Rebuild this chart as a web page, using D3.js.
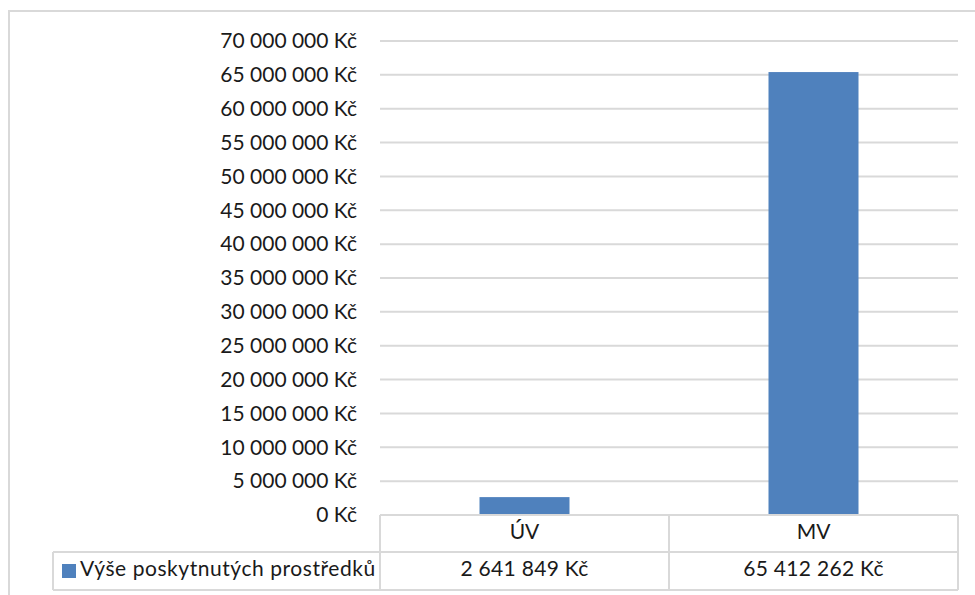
<!DOCTYPE html>
<html><head><meta charset="utf-8">
<script src="https://cdn.jsdelivr.net/npm/d3@7"></script>
<style>
html,body{margin:0;padding:0;background:#fff;}
svg{display:block;font-family:Lato, "Open Sans", sans-serif;}
</style></head>
<body><svg id="c" width="975" height="595"></svg>
<script>
const categories = ["ÚV", "MV"];
const values = [2641849, 65412262];
const seriesName = "Výše poskytnutých prostředků";
const yTicks = [0,5000000,10000000,15000000,20000000,25000000,30000000,35000000,40000000,45000000,50000000,55000000,60000000,65000000,70000000];

const fmt = v => d3.format(",")(v).replace(/,/g, " ") + " Kč";
const svg = d3.select("#c");
const W = 975, H = 595;
const pLeft = 380, pRight = 958, pTop = 41, pBottom = 515;
const row1 = 552, row2 = 590, legendLeft = 53;
const grid = "#d9d9d9", txt = "#1a1a1a", barColor = "#4f81bd";
const fs = 21;

// outer chart border
svg.append("rect").attr("x", 9).attr("y", 11).attr("width", W).attr("height", H)
  .attr("fill", "none").attr("stroke", grid).attr("stroke-width", 2);

const x = d3.scaleBand().domain(categories).range([pLeft, pRight]).padding(0);
const y = d3.scaleLinear().domain([0, 70000000]).range([pBottom, pTop]);

// gridlines
svg.append("g").selectAll("line").data(yTicks.filter(t => t > 0)).join("line")
  .attr("x1", pLeft).attr("x2", pRight)
  .attr("y1", d => y(d)).attr("y2", d => y(d))
  .attr("stroke", grid).attr("stroke-width", 2);

// y tick labels via axis
const yAxis = d3.axisLeft(y).tickValues(yTicks).tickFormat(fmt).tickSize(0).tickPadding(0);
const ga = svg.append("g").attr("transform", `translate(357,0)`).call(yAxis);
ga.select(".domain").remove();
ga.selectAll("text").attr("font-size", fs).attr("font-family", "Lato").attr("fill", txt);

// bars
const barW = 90;
svg.append("g").selectAll("rect").data(values).join("rect")
  .attr("x", (d, i) => x(categories[i]) + x.bandwidth() / 2 - barW / 2)
  .attr("width", barW)
  .attr("y", d => y(d))
  .attr("height", d => y(0) - y(d))
  .attr("fill", barColor);

// data table lines
const tl = svg.append("g").attr("stroke", grid).attr("stroke-width", 2).attr("fill", "none");
tl.append("line").attr("x1", pLeft).attr("x2", pRight).attr("y1", pBottom).attr("y2", pBottom);
tl.append("line").attr("x1", legendLeft).attr("x2", pRight).attr("y1", row1).attr("y2", row1);
tl.append("line").attr("x1", legendLeft).attr("x2", pRight).attr("y1", row2).attr("y2", row2);
tl.append("line").attr("x1", legendLeft).attr("x2", legendLeft).attr("y1", row1).attr("y2", row2);
tl.selectAll("line.v").data([pLeft, x("MV"), pRight]).join("line").attr("class", "v")
  .attr("x1", d => d).attr("x2", d => d).attr("y1", pBottom).attr("y2", row2);

// category labels
svg.append("g").selectAll("text").data(categories).join("text")
  .attr("x", d => x(d) + x.bandwidth() / 2).attr("y", (pBottom + row1) / 2)
  .attr("text-anchor", "middle").attr("dominant-baseline", "middle")
  .attr("font-size", fs).attr("fill", txt).text(d => d);

// values row
svg.append("g").selectAll("text").data(values).join("text")
  .attr("x", (d, i) => x(categories[i]) + x.bandwidth() / 2).attr("y", (row1 + row2) / 2)
  .attr("text-anchor", "middle").attr("dominant-baseline", "middle")
  .attr("font-size", fs).attr("fill", txt).attr("letter-spacing", 0.3).text(d => fmt(d));

// legend key + name
svg.append("rect").attr("x", 62).attr("y", 564).attr("width", 14).attr("height", 14).attr("fill", barColor);
svg.append("text").attr("x", 80).attr("y", (row1 + row2) / 2)
  .attr("dominant-baseline", "middle").attr("font-size", fs).attr("fill", txt)
  .attr("letter-spacing", 0.55).text(seriesName);
</script></body></html>
